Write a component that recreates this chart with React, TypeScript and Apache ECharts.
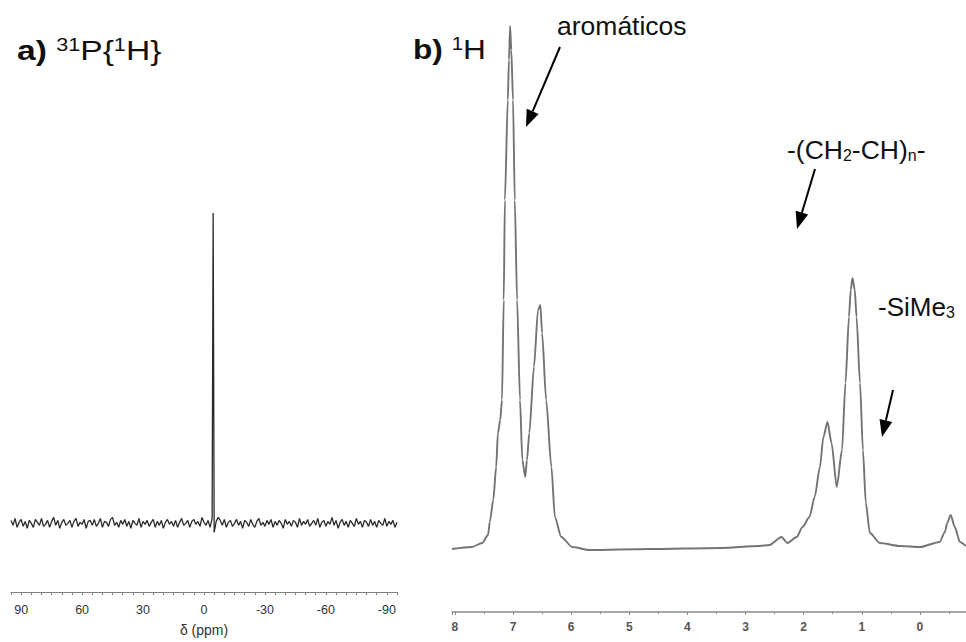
import React, { useEffect, useRef } from 'react';
import * as echarts from 'echarts';

// ---------- a) 31P{1H} spectrum ----------
const P31_START_PPM = 95;
const P31_STEP_PPM = 1;
// baseline noise, one value per ppm from 95 down to -95
const P31_NOISE = [
  3, -2, 5, -4, 1, 4, -3, 2, -5, 3,
  0, -4, 4, 1, -2, 5, -3, -1, 3, -4,
  2, 6, -2, 3, -5, 1, 4, -2, 0, 3,
  -4, 2, 5, -3, 1, -1, 4, -5, 2, 3,
  -2, 4, -3, 0, 5, -4, 2, 1, -3, 4,
  6, -2, 1, -4, 3, -1, 4, -3, 2, -5,
  3, 0, -2, 5, -4, 2, -1, 3, -3, 1,
  4, -4, 2, -2, 3, -5, 1, 4, -1, 2,
  -3, 3, -4, 1, 5, -2, 0, 3, -4, 2,
  4, -1, 2, -3, 6, 1, -2, 3, -4, 5,
  -9, 2, 6, 3, -2, 4, -4, 1, 3, -3,
  0, 4, -2, 2, -5, 3, 1, -3, 4, -1,
  -4, 2, 5, -2, 1, -3, 3, -1, 4, -4,
  2, -2, 3, 0, -5, 4, -1, 2, -3, 3,
  1, -4, 5, -2, 2, -1, 4, -3, 0, 3,
  -2, 5, -4, 1, 3, -3, 2, -1, 6, -2,
  3, -5, 1, 4, -2, 2, -4, 3, 0, -3,
  5, -1, 2, -4, 3, 1, -3, 4, -2, 2,
  -4, 3, 0, -2, 5, -3, 2, -1, 3, -4,
  1,
];
const P31_PEAK_PPM = -4.5;
const P31_PEAK_HEIGHT = 312;
const P31_TICK_LABELS = [90, 60, 30, 0, -30, -60, -90];

// ---------- b) 1H spectrum ----------
const H1_PPM = [
  8.05, 7.71, 7.53, 7.43, 7.40, 7.34, 7.29, 7.26, 7.22, 7.19,
  7.16, 7.14, 7.09, 7.07, 7.05, 7.03, 7.00, 6.97, 6.93, 6.88,
  6.84, 6.79, 6.76, 6.72, 6.64, 6.57, 6.53, 6.50, 6.43, 6.34,
  6.28, 6.17, 5.98, 5.69, 4.65, 3.44, 2.76, 2.59, 2.38, 2.28,
  2.12, 2.02, 1.90, 1.81, 1.72, 1.66, 1.59, 1.52, 1.43, 1.34,
  1.28, 1.22, 1.19, 1.16, 1.12, 1.09, 1.03, 0.98, 0.93, 0.86,
  0.69, 0.34, 0.00, -0.34, -0.43, -0.47, -0.53, -0.60, -0.69, -0.79,
];
const H1_INTENSITY = [
  -1, 1, 5, 13, 26, 48, 81, 115, 128, 148,
  248, 348, 448, 488, 522, 498, 448, 348, 248, 148,
  88, 71, 88, 115, 181, 238, 243, 215, 148, 81,
  31, 11, 1, -2, -1, 0, 2, 3, 11, 5,
  11, 21, 31, 51, 81, 111, 126, 105, 61, 98,
  165, 231, 258, 270, 258, 231, 165, 98, 45, 15,
  5, 2, 1, 6, 16, 25, 33, 21, 6, 2,
];
const H1_TICK_LABELS = [8, 7, 6, 5, 4, 3, 2, 1, 0];

const FONT = 'Liberation Sans, Arial, sans-serif';

function buildP31Data(): number[][] {
  const out: number[][] = [];
  P31_NOISE.forEach((v, i) => {
    const ppm = P31_START_PPM - i * P31_STEP_PPM;
    out.push([ppm, v]);
    if (ppm > P31_PEAK_PPM && ppm - P31_STEP_PPM < P31_PEAK_PPM) {
      out.push([P31_PEAK_PPM, P31_PEAK_HEIGHT]);
    }
  });
  return out;
}

function arrow(x1: number, y1: number, x2: number, y2: number) {
  const dx = x2 - x1;
  const dy = y2 - y1;
  const len = Math.sqrt(dx * dx + dy * dy);
  const ux = dx / len;
  const uy = dy / len;
  const headLen = 17;
  const headHalf = 6.5;
  const bx = x2 - ux * headLen;
  const by = y2 - uy * headLen;
  return [
    {
      type: 'line',
      shape: { x1, y1, x2: bx, y2: by },
      style: { stroke: '#000', lineWidth: 2 },
      silent: true,
    },
    {
      type: 'polygon',
      shape: {
        points: [
          [x2, y2],
          [bx - uy * headHalf, by + ux * headHalf],
          [bx + uy * headHalf, by - ux * headHalf],
        ],
      },
      style: { fill: '#000' },
      silent: true,
    },
  ];
}

export default function App() {
  const ref = useRef<HTMLDivElement>(null);

  useEffect(() => {
    if (!ref.current) return;
    const chart = echarts.init(ref.current, undefined, { renderer: 'svg' });

    const p31Data = buildP31Data();
    const h1Data = H1_PPM.map((p, i) => [p, H1_INTENSITY[i]]);

    const option: any = {
      animation: false,
      backgroundColor: '#ffffff',
      grid: [
        { left: 11, width: 386, top: 213, height: 381 },
        { left: 452, width: 526, top: 26, height: 586 },
      ],
      xAxis: [
        {
          gridIndex: 0,
          type: 'value',
          inverse: true,
          min: -95,
          max: 95,
          interval: 5,
          axisLine: { onZero: false, lineStyle: { color: '#808080', width: 1.2 } },
          axisTick: { show: true, length: 3, lineStyle: { color: '#808080' } },
          axisLabel: {
            formatter: (v: number) => (P31_TICK_LABELS.indexOf(v) >= 0 ? String(v) : ''),
            color: '#333',
            fontFamily: FONT,
            fontSize: 12.5,
            margin: 11,
          },
          splitLine: { show: false },
          name: 'δ (ppm)',
          nameLocation: 'middle',
          nameGap: 31,
          nameTextStyle: { color: '#333', fontFamily: FONT, fontSize: 14 },
        },
        {
          gridIndex: 1,
          type: 'value',
          inverse: true,
          min: -1,
          max: 8.05,
          interval: 1,
          axisLine: { onZero: false, lineStyle: { color: '#8a8a8a', width: 1.5 } },
          axisTick: { show: true, length: 3, lineStyle: { color: '#8a8a8a' } },
          minorTick: { show: true, splitNumber: 2, length: 2, lineStyle: { color: '#8a8a8a' } },
          axisLabel: {
            formatter: (v: number) => (H1_TICK_LABELS.indexOf(v) >= 0 ? String(v) : ''),
            color: '#555',
            fontFamily: FONT,
            fontWeight: 'bold',
            fontSize: 12,
            margin: 9,
          },
          splitLine: { show: false },
        },
      ],
      yAxis: [
        { gridIndex: 0, type: 'value', min: -69, max: 312, show: false },
        { gridIndex: 1, type: 'value', min: -64, max: 522, show: false },
      ],
      series: [
        {
          type: 'line',
          xAxisIndex: 0,
          yAxisIndex: 0,
          data: p31Data,
          showSymbol: false,
          silent: true,
          lineStyle: { color: '#2a2a2a', width: 1.3 },
        },
        {
          type: 'line',
          xAxisIndex: 1,
          yAxisIndex: 1,
          data: h1Data,
          showSymbol: false,
          silent: true,
          smooth: 0.25,
          smoothMonotone: 'x',
          lineStyle: { color: '#737373', width: 1.9 },
        },
      ],
      graphic: [
        {
          type: 'text',
          left: 17,
          top: 36,
          scaleX: 1.2,
          silent: true,
          style: {
            text: '{b|a)} {sup|31}P{{sup|1}H}',
            fontSize: 28,
            fontFamily: FONT,
            fill: '#111',
            rich: {
              b: { fontSize: 28, fontWeight: 'bold', fontFamily: FONT, fill: '#111' },
              sup: { fontSize: 18, verticalAlign: 'top', fontFamily: FONT, fill: '#111' },
            },
          },
        },
        {
          type: 'text',
          left: 413,
          top: 35,
          scaleX: 1.13,
          silent: true,
          style: {
            text: '{b|b)} {sup|1}H',
            fontSize: 28,
            fontFamily: FONT,
            fill: '#111',
            rich: {
              b: { fontSize: 28, fontWeight: 'bold', fontFamily: FONT, fill: '#111' },
              sup: { fontSize: 18, verticalAlign: 'top', fontFamily: FONT, fill: '#111' },
            },
          },
        },
        {
          type: 'text',
          left: 557,
          top: 12,
          silent: true,
          style: { text: 'aromáticos', fontSize: 26.5, fontFamily: FONT, fill: '#111' },
        },
        {
          type: 'text',
          left: 787,
          top: 136,
          silent: true,
          style: {
            text: '-(CH{sub|2}-CH){sub|n}-',
            fontSize: 26.5,
            fontFamily: FONT,
            fill: '#111',
            rich: {
              sub: { fontSize: 16, verticalAlign: 'bottom', fontFamily: FONT, fill: '#111' },
            },
          },
        },
        {
          type: 'text',
          left: 878,
          top: 294,
          silent: true,
          style: {
            text: '-SiMe{sub|3}',
            fontSize: 26,
            fontFamily: FONT,
            fill: '#111',
            rich: {
              sub: { fontSize: 16, verticalAlign: 'bottom', fontFamily: FONT, fill: '#111' },
            },
          },
        },
        ...arrow(560, 47, 526, 127),
        ...arrow(815, 169, 797, 229),
        ...arrow(893, 390, 882, 437),
      ],
    };

    chart.setOption(option);
    return () => {
      chart.dispose();
    };
  }, []);

  return (
    <div
      style={{
        position: 'fixed',
        left: 0,
        top: 0,
        width: 966,
        height: 642,
        overflow: 'hidden',
        background: '#fff',
      }}
    >
      <div ref={ref} style={{ width: 990, height: 642 }} />
    </div>
  );
}
